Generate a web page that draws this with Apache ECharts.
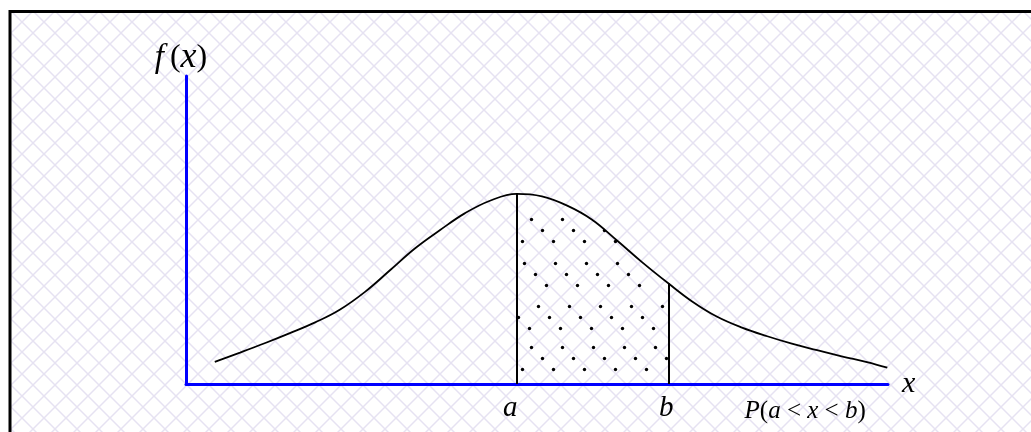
<!DOCTYPE html>
<html>
<head>
<meta charset="utf-8">
<script src="https://cdn.jsdelivr.net/npm/echarts@6/dist/echarts.min.js"></script>
<style>
  html, body { margin: 0; padding: 0; background: #fff; }
  #chart { width: 1031px; height: 432px; }
</style>
</head>
<body>
<div id="chart"></div>
<script>
// density curve (x in 0..100 along the axis, y in 0..100 up the axis)
var curveX = [4.1, 7.7, 11.3, 14.8, 18.4, 21.9, 25.5, 29.1, 32.6, 36.2, 39.7, 43.3, 47.1,
              50.7, 54.3, 57.8, 61.4, 65.0, 68.7, 72.1, 75.6, 79.2, 82.8, 86.3, 89.9, 93.4, 97.0, 99.9];
var curveY = [7.2, 10.2, 13.3, 16.5, 20.0, 24.1, 29.9, 37.0, 44.0, 50.0, 55.4, 59.5, 61.7,
              60.9, 57.9, 53.4, 46.6, 39.5, 32.7, 26.8, 21.9, 18.3, 15.5, 13.1, 11.0, 9.0, 7.1, 5.3];
// bounds of the shaded interval and curve height there
var boundX = [47.1, 68.7];
var boundY = [61.7, 32.7];
// labels under the x axis
var labelValues = [46.2, 68.4, 88.2];
var labelTexts = ['a', 'b', 'P(a < x < b)'];

var serif = "'Liberation Serif', 'Times New Roman', serif";

function makeLattice() {
    var c = document.createElement('canvas');
    c.width = 22; c.height = 22;
    var g = c.getContext('2d');
    g.strokeStyle = '#e6e2f2';
    g.lineWidth = 1.5;
    g.beginPath();
    for (var k = -22; k <= 22; k += 22) {
        g.moveTo(-5 + k, -5); g.lineTo(27 + k, 27);
        g.moveTo(27 + k, -5); g.lineTo(-5 + k, 27);
    }
    g.stroke();
    return c;
}

// stipple: groups of three dots stepping down-right, four staggered rows of groups
function makeDots() {
    var c = document.createElement('canvas');
    c.width = 31; c.height = 215;
    var g = c.getContext('2d');
    g.fillStyle = '#000';
    var starts = [[4, 4], [28, 48], [11, 91], [4, 132]];
    starts.forEach(function (s) {
        for (var i = 0; i < 3; i++) {
            var x = (s[0] + 11 * i) % 31, y = s[1] + 11 * i;
            g.beginPath(); g.arc(x + 0.5, y + 0.5, 1.7, 0, Math.PI * 2); g.fill();
        }
    });
    return c;
}

function richify(s, italicKey, plainKey) {
    return s.split('').map(function (ch) {
        return /[a-zA-Z]/.test(ch) ? '{' + italicKey + '|' + ch + '}' : '{' + plainKey + '|' + ch + '}';
    }).join('');
}

var curve = curveX.map(function (x, i) { return [x, curveY[i]]; });
var shaded = curve.filter(function (p) { return p[0] >= boundX[0] && p[0] <= boundX[1]; });

var chart = echarts.init(document.getElementById('chart'));
chart.setOption({
    animation: false,
    backgroundColor: '#fff',
    graphic: [{
        type: 'rect',
        z: -10,
        silent: true,
        shape: { x: 10, y: 11.5, width: 1100, height: 500 },
        style: { fill: { image: makeLattice(), repeat: 'repeat' }, stroke: '#000', lineWidth: 3 }
    }],
    grid: { left: 186, top: 76, width: 702, height: 308 },
    xAxis: {
        type: 'value',
        min: 0,
        max: 100,
        name: 'x',
        nameLocation: 'end',
        nameGap: 14,
        nameTextStyle: { fontFamily: serif, fontStyle: 'italic', fontSize: 30, color: '#000', verticalAlign: 'middle' },
        axisLine: { lineStyle: { color: '#0000ff', width: 3 } },
        axisTick: { show: false },
        splitLine: { show: false },
        axisLabel: {
            customValues: labelValues,
            margin: 10,
            verticalAlign: 'top',
            formatter: function (v) {
                var i = labelValues.indexOf(v);
                if (i < 0) return '';
                return i < 2 ? richify(labelTexts[i], 'i', 'r') : richify(labelTexts[i], 'pi', 'pr');
            },
            rich: {
                i: { fontFamily: serif, fontStyle: 'italic', fontSize: 29, lineHeight: 29, color: '#000' },
                r: { fontFamily: serif, fontSize: 29, lineHeight: 29, color: '#000' },
                pi: { fontFamily: serif, fontStyle: 'italic', fontSize: 25, lineHeight: 34, color: '#000' },
                pr: { fontFamily: serif, fontSize: 25, lineHeight: 34, color: '#000' }
            }
        }
    },
    yAxis: {
        type: 'value',
        min: 0,
        max: 100,
        name: '{i|f}{s| }{r|(}{x|x}{r|)}',
        nameLocation: 'end',
        nameGap: 0,
        nameTextStyle: {
            align: 'center',
            padding: [0, 10, 0, 0],
            rich: {
                i: { fontFamily: serif, fontStyle: 'italic', fontSize: 33, color: '#000' },
                x: { fontFamily: serif, fontStyle: 'italic', fontSize: 36, color: '#000' },
                r: { fontFamily: serif, fontSize: 32, color: '#000' },
                s: { fontFamily: serif, fontSize: 24, color: '#000' }
            }
        },
        axisLine: { lineStyle: { color: '#0000ff', width: 3 } },
        axisTick: { show: false },
        axisLabel: { show: false },
        splitLine: { show: false }
    },
    series: [
        {
            name: 'shaded',
            type: 'line',
            data: shaded,
            smooth: 0.4,
            symbol: 'none',
            z: 1,
            lineStyle: { width: 0 },
            areaStyle: { color: { image: makeDots(), repeat: 'repeat' }, opacity: 1 }
        },
        {
            name: 'f(x)',
            type: 'line',
            data: curve,
            smooth: 0.4,
            symbol: 'none',
            z: 3,
            lineStyle: { color: '#000', width: 1.8 },
            markLine: {
                silent: true,
                symbol: 'none',
                label: { show: false },
                lineStyle: { color: '#000', width: 2, type: 'solid' },
                data: boundX.map(function (x, i) {
                    return [{ coord: [x, 0] }, { coord: [x, boundY[i]] }];
                })
            }
        }
    ]
});
</script>
</body>
</html>
